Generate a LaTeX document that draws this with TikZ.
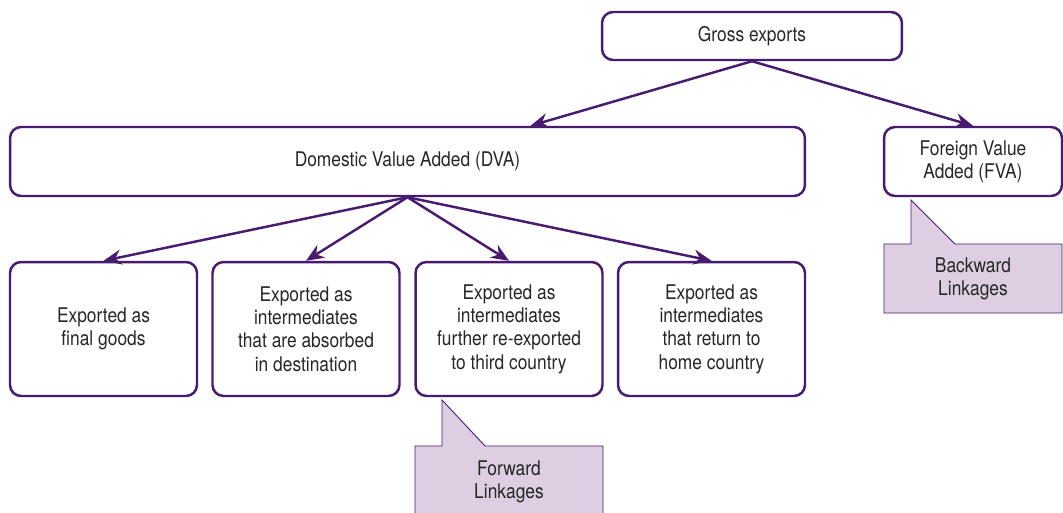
\documentclass[tikz,border=0pt]{standalone}
\usepackage{fontspec}
\setmainfont{TeX Gyre Heros}[FakeStretch=0.86]
\usetikzlibrary{arrows.meta,calc}
\definecolor{vapurple}{RGB}{72,26,112}
\definecolor{valilac}{RGB}{221,206,226}
\definecolor{vatext}{RGB}{38,38,38}

\begin{document}
\begin{tikzpicture}[x=0.02cm,y=-0.02cm,
      >={Stealth[length=3.6mm,width=3mm,inset=1.2mm]},
      box/.style={draw=vapurple,line width=1.4pt,rounded corners=0.22cm,
        align=center,text=vatext,inner sep=2pt,
        font=\fontsize{11.5}{13.3}\selectfont},
      tier/.style={box,minimum width=3.74cm,minimum height=2.68cm},
      flow/.style={draw=vapurple,line width=1.4pt,->},
      call/.style={draw=vapurple,line width=0.5pt,fill=valilac},
      calltext/.style={align=center,text=vatext,
        font=\fontsize{11.5}{13.3}\selectfont}
    ]
    \clip (0,0) rectangle (1063,512);
    % top level
    \node[box,minimum width=6cm,minimum height=0.96cm] (gross) at (752,36)
      {Gross exports};
    \node[box,minimum width=15.9cm,minimum height=1.38cm] (dva) at (407.5,161.5)
      {Domestic Value Added (DVA)};
    \node[box,minimum width=3.56cm,minimum height=1.38cm] (fva) at (973,161.5)
      {Foreign Value\\Added (FVA)};
    % DVA components
    \node[tier] (final) at (103.5,329) {Exported as\\final goods};
    \node[tier] (absorb) at (306,329)
      {Exported as\\intermediates\\that are absorbed\\in destination};
    \node[tier] (reexp) at (509,329)
      {Exported as\\intermediates\\further re-exported\\to third country};
    \node[tier] (home) at (711.5,329)
      {Exported as\\intermediates\\that return to\\home country};
    \draw[flow] (gross.south) -- ([xshift=2.46cm]dva.north);
    \draw[flow] (gross.south) -- (fva.north);
    \draw[flow] (dva.south) -- (final.north);
    \draw[flow] (dva.south) -- (absorb.north);
    \draw[flow] (dva.south) -- (reexp.north);
    \draw[flow] (dva.south) -- (home.north);
    % linkage callouts
    \draw[call] (415,446) -- (442,446) -- (442,400) -- (485,446) -- (603,446)
      -- (603,530) -- (415,530) -- cycle;
    \node[calltext] (fwd) at (509,482) {Forward\\Linkages};
    \draw[call] (884,244) -- (911,244) -- (911,200) -- (955,244) -- (1062,244)
      -- (1062,313) -- (884,313) -- cycle;
    \node[calltext] (bwd) at (973,279) {Backward\\Linkages};
  \end{tikzpicture}
\end{document}
